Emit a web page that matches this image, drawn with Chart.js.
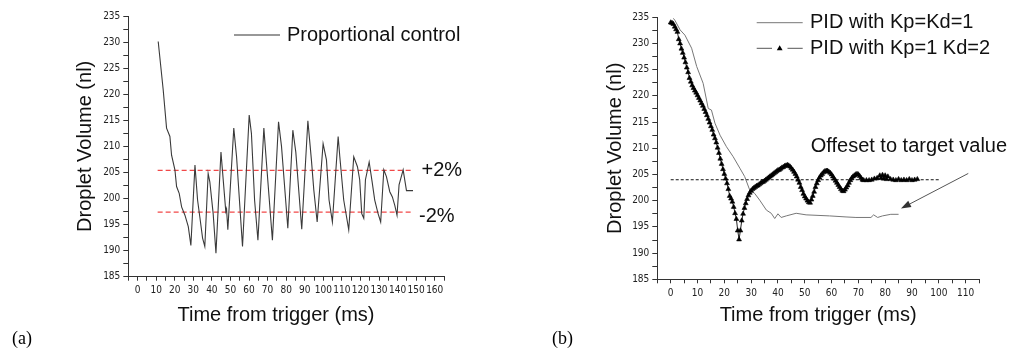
<!DOCTYPE html>
<html><head><meta charset="utf-8">
<script src="https://cdn.jsdelivr.net/npm/chart.js@4.4.1/dist/chart.umd.min.js"></script>
<style>
html,body{margin:0;padding:0;background:#fff;}
body{width:1023px;height:348px;overflow:hidden;position:relative;}
#wa{position:absolute;left:0;top:0;width:520px;height:348px;}
#wb{position:absolute;left:520px;top:0;width:503px;height:348px;}
.lab{position:absolute;font-family:"Liberation Serif","Times New Roman",serif;font-size:18px;line-height:20px;color:#000;}
</style></head>
<body>
<div id="wa"><canvas id="ca"></canvas></div>
<div id="wb"><canvas id="cb"></canvas></div>
<div class="lab" style="left:12px;top:328px;">(a)</div>
<div class="lab" style="left:552px;top:328px;">(b)</div>
<script>
// ---------- data ----------
const leftT = [11.1,13.8,15.6,17.4,18.3,20.1,21,22.4,23.7,25.5,27.3,28.7,30.9,32.3,33.5,35,36.2,38,38.9,40.7,42.2,44.9,47.5,47.9,48.6,51.8,53.3,56.5,60.1,61.3,63,64.8,68,69.4,72.6,75.9,77.5,80.9,83.6,85.2,88.4,91.7,93.6,94.9,96.7,99.9,101.7,103.1,104.9,108,108.9,111,113.7,116.4,118.4,119.6,120.7,121.8,122.7,124.7,126.3,127.7,129.5,130.9,132.6,134,135.8,137.2,138.5,139.7,140.8,143,144.8,148.3];
const leftV = [230.1,220.8,213.5,211.9,208.3,205.5,202.3,201,198.4,196.8,194.6,191,206.4,199.7,196.5,192.4,190.8,204.8,203.2,197.1,189.5,208.9,197.5,198,194,213.5,208,190.8,216,212.5,199.7,192,213.5,206.8,192,214.7,210,194.3,213.1,208.9,194.1,214.9,207.4,201.6,195.5,210.5,207.4,199.7,195.5,211.9,208,199.7,194,208,206.1,203.6,197.1,196.2,203.6,207,203.2,199.7,197.1,195.5,205.5,204.2,201.3,200.3,198.7,196.8,202.6,205.5,201.5,201.5];
const bandX = [10.8, 148];
const bandUpper = 205.4;
const bandLower = 197.4;

const pidAT = [1,1.6,3.5,5.3,7.8,9.7,12.1,14,15.2,16.5,18.4,20.8,23.3,25.8,27.6,29.5,31.3,33.2,35.7,37.5,38.8,40,41.2,43.1,46.8,50.5,59.2,65.4,69.1,74.7,75.7,77.2,79,82.1,85];
const pidAV = [234.8,234.4,232.6,231.6,229.1,225.6,222.4,217.6,217.3,214.8,212.5,210.3,208.4,206.2,204.6,202,201.4,200.1,198.2,197.6,196.6,197.5,196.8,197.1,197.6,197.3,197.1,196.9,196.8,196.8,197.3,196.8,197.1,197.4,197.4];

const pidBT = [0,0.5,1,1.5,2,2.5,3,3.5,4,4.5,5,5.5,6,6.5,7,7.5,8,8.5,9,9.5,10,10.5,11,11.5,12,12.5,13,13.5,14,14.5,15,15.5,16,16.5,17,17.5,18,18.5,19,19.5,20,20.5,21,21.5,22,22.5,23,23.5,24,24.5,25,25.5,26,26.5,27,27.5,28,28.5,29,29.5,30,30.5,31,31.5,32,32.5,33,33.5,34,34.5,35,35.5,36,36.5,37,37.5,38,38.5,39,39.5,40,40.5,41,41.5,42,42.5,43,43.5,44,44.5,45,45.5,46,46.5,47,47.5,48,48.5,49,49.5,50,50.5,51,51.5,52,52.5,53,53.5,54,54.5,55,55.5,56,56.5,57,57.5,58,58.5,59,59.5,60,60.5,61,61.5,62,62.5,63,63.5,64,64.5,65,65.5,66,66.5,67,67.5,68,68.5,69,69.5,70,70.5,71,71.5,72,73,74,75,76,77,78,78.5,79,79.5,80,80.5,81,82,83,84,85,86,87,88,89,90,91,92];
const pidBV = [234,233.9,233.7,233.2,232.7,232.2,230.8,230,229,228.2,227.3,226.4,225.4,224.5,223.4,222.7,222,221.5,221,220.6,220.1,219.6,219.1,218.6,218.1,217.5,216.9,216.3,215.6,214.9,214.2,213.5,212.6,211.9,211.1,210.1,209.1,208,207,206,205.1,204.2,203.3,202.2,200.9,200.4,199.8,198.8,197.6,196.5,194.3,192.6,194.3,196.2,197.5,198.6,199.5,200.3,201,201.5,201.9,202.2,202.4,202.6,202.8,202.9,203.1,203.3,203.5,203.6,203.8,204,204.2,204.4,204.6,204.8,205,205.2,205.4,205.6,205.8,205.9,206.1,206.3,206.4,206.6,206.7,206.8,206.7,206.5,206.2,205.9,205.5,205.1,204.6,204,203.4,202.6,202,201.3,200.8,200.4,200,199.7,199.6,200.2,200.9,201.7,202.6,203.3,203.9,204.4,204.8,205.1,205.4,205.6,205.7,205.7,205.5,205.3,205,204.6,204.2,203.8,203.4,203,202.6,202.2,201.9,201.8,202.1,202.5,202.9,203.4,203.9,204.3,204.6,204.8,205,205.1,205,204.7,204.3,204,203.9,203.9,203.9,204,204.2,204.3,204.8,204.3,204.9,204.2,204.8,204.1,204.6,204.1,204,203.9,204.1,203.9,204,203.9,204.1,203.9,204,204.1];
const targetX = [0, 100];
const targetValue = 204;
const arrowFrom = {x:111, y:205.2};
const arrowTo = {x:85.9, y:198.5};

const xTicksA = {min:-5, max:165, step:5, labelEvery:10, lastLabel:160};
const xTicksB = {min:-5, max:115, step:5, labelEvery:10, lastLabel:110};
const yTicks = {min:185, max:235, step:2.5, labelEvery:5};

// ---------- helpers ----------
const pts = (xs, ys) => xs.map((x,i)=>({x:x, y:ys[i]}));
const TICKFONT = {family:"'Liberation Sans Narrow','DejaVu Sans Condensed','Liberation Sans',sans-serif", size:10};
const BIGFONT = '"Liberation Sans", Arial, sans-serif';
const AX = '#333';

function xScale(t, yw, xh, showTitle){
  return {
    type:'linear', min:t.min, max:t.max,
    afterFit(s){ s.height = xh; },
    ticks:{stepSize:t.step, autoSkip:false, maxRotation:0, minRotation:0, padding:4, color:'#222', font:TICKFONT,
      callback:(v)=> (v % t.labelEvery === 0 && v >= 0 && v <= t.lastLabel) ? String(v) : ''},
    grid:{drawOnChartArea:false, drawTicks:true, tickLength:4, color:AX},
    border:{display:true, color:AX, width:1},
    title:{display:showTitle, text:'Time from trigger (ms)', color:'#111', font:{family:BIGFONT, size:20}, padding:{bottom:21, top:0}}
  };
}
function yScale(yw, padTop){
  return {
    type:'linear', min:yTicks.min, max:yTicks.max,
    afterFit(s){ s.width = yw; },
    ticks:{stepSize:yTicks.step, autoSkip:false, padding:3, color:'#222', font:TICKFONT,
      callback:(v)=> (Math.abs(v % yTicks.labelEvery) < 1e-6) ? String(v) : ''},
    grid:{drawOnChartArea:false, drawTicks:true, tickLength:5, color:AX},
    border:{display:true, color:AX, width:1},
    title:{display:true, text:'Droplet Volume (nl)', color:'#111', font:{family:BIGFONT, size:20}, padding:{top:padTop, bottom:0}}
  };
}
function txt(ctx, s, x, y, size, align){
  ctx.save();
  ctx.font = size + 'px ' + BIGFONT;
  ctx.fillStyle = '#111';
  ctx.textAlign = align || 'left';
  ctx.textBaseline = 'middle';
  ctx.fillText(s, x, y);
  ctx.restore();
}
function seg(ctx, x1, y1, x2, y2, color, w, dash){
  ctx.save();
  ctx.strokeStyle = color; ctx.lineWidth = w;
  ctx.setLineDash(dash || []);
  ctx.beginPath(); ctx.moveTo(x1, y1); ctx.lineTo(x2, y2); ctx.stroke();
  ctx.restore();
}

// ---------- chart (a) ----------
const decoA = {
  id:'decoA',
  afterDraw(chart){
    const ctx = chart.ctx;
    seg(ctx, 234, 35, 280, 35, '#333', 1.2);
    txt(ctx, 'Proportional control', 287, 35, 20);
    txt(ctx, '+2%', 421.5, 170.5, 20);
    txt(ctx, '-2%', 419, 216, 20);
    txt(ctx, 'Time from trigger (ms)', 276, 315, 20, 'center');
  }
};
new Chart(document.getElementById('ca'), {
  type:'line',
  data:{datasets:[
    {data:pts(leftT, leftV), borderColor:'#3a3a3a', borderWidth:1.1, pointRadius:0, tension:0},
    {data:pts(bandX, [bandUpper, bandUpper]), borderColor:'rgba(238,40,40,0.85)', borderDash:[5,3], borderWidth:1.3, pointRadius:0},
    {data:pts(bandX, [bandLower, bandLower]), borderColor:'rgba(238,40,40,0.85)', borderDash:[5,3], borderWidth:1.3, pointRadius:0}
  ]},
  options:{
    responsive:true, maintainAspectRatio:false, animation:false, events:[],
    layout:{padding:{left:0, top:16, right:76, bottom:0}},
    plugins:{legend:{display:false}, tooltip:{enabled:false}},
    scales:{x:xScale(xTicksA, 128.3, 71.3, false), y:yScale(128.3, 73)}
  },
  plugins:[decoA]
});

// ---------- chart (b) ----------
const decoB = {
  id:'decoB',
  afterDraw(chart){
    const ctx = chart.ctx;
    seg(ctx, 236.7, 22.7, 282.7, 22.7, '#777', 1);
    txt(ctx, 'PID with Kp=Kd=1', 290, 22.7, 20);
    seg(ctx, 236.7, 48.3, 252, 48.3, '#555', 1);
    seg(ctx, 267.5, 48.3, 282.7, 48.3, '#555', 1);
    ctx.save(); ctx.fillStyle = '#000'; ctx.beginPath();
    ctx.moveTo(259.7, 45.3); ctx.lineTo(262.6, 50.2); ctx.lineTo(256.8, 50.2); ctx.closePath(); ctx.fill(); ctx.restore();
    txt(ctx, 'PID with Kp=1 Kd=2', 290, 48.3, 20);
    txt(ctx, 'Offeset to target value', 290.7, 146.7, 20);
    // arrow pointing to the offset, placed through the chart scales
    const xs = chart.scales.x, ys = chart.scales.y;
    const x1 = xs.getPixelForValue(arrowFrom.x), y1 = ys.getPixelForValue(arrowFrom.y);
    const x2 = xs.getPixelForValue(arrowTo.x), y2 = ys.getPixelForValue(arrowTo.y);
    const ang = Math.atan2(y2 - y1, x2 - x1);
    const hl = 10, hw = 3.5;
    const bx = x2 - hl*Math.cos(ang), by = y2 - hl*Math.sin(ang);
    seg(ctx, x1, y1, bx, by, '#555', 1);
    ctx.save(); ctx.fillStyle = '#333'; ctx.beginPath();
    ctx.moveTo(x2, y2);
    ctx.lineTo(bx + hw*Math.sin(ang), by - hw*Math.cos(ang));
    ctx.lineTo(bx - hw*Math.sin(ang), by + hw*Math.cos(ang));
    ctx.closePath(); ctx.fill(); ctx.restore();
  }
};
new Chart(document.getElementById('cb'), {
  type:'line',
  data:{datasets:[
    {data:pts(pidBT, pidBV), borderColor:'#222', borderWidth:1, pointStyle:'triangle', pointRadius:2.8,
     pointBackgroundColor:'#000', pointBorderColor:'#000', pointBorderWidth:0.6, tension:0},
    {data:pts(pidAT, pidAV), borderColor:'#777', borderWidth:1, pointRadius:0, tension:0},
    {data:pts(targetX, [targetValue, targetValue]), borderColor:'#111', borderDash:[3,2], borderWidth:1, pointRadius:0}
  ]},
  options:{
    responsive:true, maintainAspectRatio:false, animation:false, events:[],
    layout:{padding:{left:0, top:17.3, right:44, bottom:0}},
    plugins:{legend:{display:false}, tooltip:{enabled:false}},
    scales:{x:xScale(xTicksB, 137.3, 68.7, true), y:yScale(137.3, 83)}
  },
  plugins:[decoB]
});
</script>
</body></html>
